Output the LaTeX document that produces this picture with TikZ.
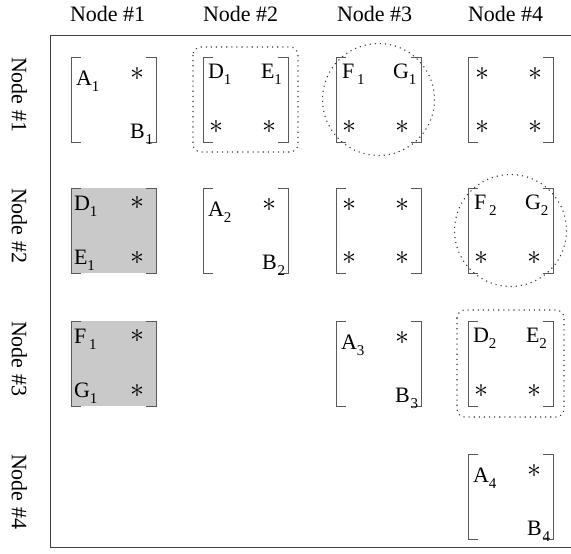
\documentclass[tikz,border=0pt]{standalone}
\usepackage{graphicx}
\usepackage{fontspec}
\setmainfont{Liberation Serif}
\usetikzlibrary{calc}
\newcommand\sbs[1]{\raisebox{-0.28em}{\fontsize{15}{15}\selectfont #1}}
\newcommand\ent[5]{\node[entry] (#1-#2) at ($(#1.north west)+(#3,#4)$) {#5};}
\newcommand\mystar[4]{\node[starnode] (#1-#2) at ($(#1.north west)+(#3,#4)$) {\scalebox{1.35}{$\ast$}};}
\newcommand\mtx[3]{%
  \node[mbox] (#1) at (#2+42.5,#3+42.5) {};
  \draw[bracket] ($(#1.north west)+(10,0)$) -- (#1.north west) -- (#1.south west) -- ($(#1.south west)+(10,0)$);
  \draw[bracket] ($(#1.north east)+(-10,0)$) -- (#1.north east) -- (#1.south east) -- ($(#1.south east)+(-10,0)$);}
\begin{document}
\begin{tikzpicture}[x=1pt,y=-1pt,
  font=\fontsize{22}{24}\selectfont,
  every node/.style={inner sep=0pt, outer sep=0pt},
  frameline/.style={line width=1pt, draw=black!75},
  bracket/.style={line width=1pt, draw=black!65},
  dots/.style={line width=1.1pt, dash pattern=on 1.1pt off 4pt, draw=black!80},
  shade/.style={fill=black!21},
  mbox/.style={minimum width=85pt, minimum height=85pt},
  entry/.style={anchor=base west},
  starnode/.style={anchor=center},
  head/.style={anchor=base west},
  rowlab/.style={rotate=-90, anchor=base west}]
\useasboundingbox (0,0) rectangle (571,554);
% frame
\draw[frameline] (572,35) -- (50,35) -- (50,547) -- (572,547);
% headers
\node[head] (h1) at (70,21) {Node \#1};
\node[head] (h2) at (203,21) {Node \#2};
\node[head] (h3) at (337,21) {Node \#3};
\node[head] (h4) at (468,21) {Node \#4};
% row labels
\node[rowlab] (r1) at (12,57) {Node \#1};
\node[rowlab] (r2) at (12,188) {Node \#2};
\node[rowlab] (r3) at (12,321) {Node \#3};
\node[rowlab] (r4) at (12,454) {Node \#4};
% shading
\fill[shade] (71,188) rectangle (156,273);
\fill[shade] (71,321) rectangle (156,406);
% matrices
\mtx{m11}{71}{57}
\mtx{m12}{203}{57}
\mtx{m13}{336}{57}
\mtx{m14}{468}{57}
\mtx{m21}{71}{188}
\mtx{m22}{203}{188}
\mtx{m23}{336}{188}
\mtx{m24}{468}{188}
\mtx{m31}{71}{321}
\mtx{m33}{336}{321}
\mtx{m34}{468}{321}
\mtx{m44}{468}{454}
% highlights
\draw[dots, rounded corners=8pt] ($(m12.north west)+(-10,-10)$) rectangle ($(m12.south east)+(10,10)$);
\draw[dots, rounded corners=8pt] ($(m34.north west)+(-11,-11)$) rectangle ($(m34.south east)+(11,11)$);
\draw[dots] (m13.center) circle[radius=56];
\draw[dots] (m24.center) circle[radius=56];
% entries row 1
\ent{m11}{a}{5}{28}{A\sbs{1}}
\mystar{m11}{b}{66}{17}
\ent{m11}{c}{59}{81}{B\kern1pt\sbs{1}}
\ent{m12}{a}{5}{21}{D\sbs{1}}
\ent{m12}{b}{58}{21}{E\sbs{1}}
\mystar{m12}{c}{13}{70}
\mystar{m12}{d}{66}{70}
\ent{m13}{a}{6}{21}{F\kern3pt\sbs{1}}
\ent{m13}{b}{57}{21}{G\sbs{1}}
\mystar{m13}{c}{13}{70}
\mystar{m13}{d}{66}{70}
\mystar{m14}{a}{14}{17}
\mystar{m14}{b}{67}{17}
\mystar{m14}{c}{14}{70}
\mystar{m14}{d}{67}{70}
% row 2
\ent{m21}{a}{3}{22}{D\sbs{1}}
\mystar{m21}{b}{66}{15}
\ent{m21}{c}{3}{76}{E\sbs{1}}
\mystar{m21}{d}{66}{70}
\ent{m22}{a}{5}{28}{A\sbs{2}}
\mystar{m22}{b}{66}{17}
\ent{m22}{c}{59}{81}{B\kern1pt\sbs{2}}
\mystar{m23}{a}{13}{17}
\mystar{m23}{b}{66}{17}
\mystar{m23}{c}{13}{70}
\mystar{m23}{d}{66}{70}
\ent{m24}{a}{6}{21}{F\kern3pt\sbs{2}}
\ent{m24}{b}{57}{21}{G\sbs{2}}
\mystar{m24}{c}{13}{70}
\mystar{m24}{d}{66}{70}
% row 3
\ent{m31}{a}{3}{22}{F\kern3pt\sbs{1}}
\mystar{m31}{b}{66}{15}
\ent{m31}{c}{3}{76}{G\sbs{1}}
\mystar{m31}{d}{66}{70}
\ent{m33}{a}{5}{28}{A\sbs{3}}
\mystar{m33}{b}{66}{17}
\ent{m33}{c}{59}{81}{B\kern1pt\sbs{3}}
\ent{m34}{a}{5}{21}{D\sbs{2}}
\ent{m34}{b}{58}{21}{E\sbs{2}}
\mystar{m34}{c}{13}{70}
\mystar{m34}{d}{66}{70}
% row 4
\ent{m44}{a}{5}{28}{A\sbs{4}}
\mystar{m44}{b}{66}{17}
\ent{m44}{c}{59}{81}{B\kern1pt\sbs{4}}
\end{tikzpicture}
\end{document}
